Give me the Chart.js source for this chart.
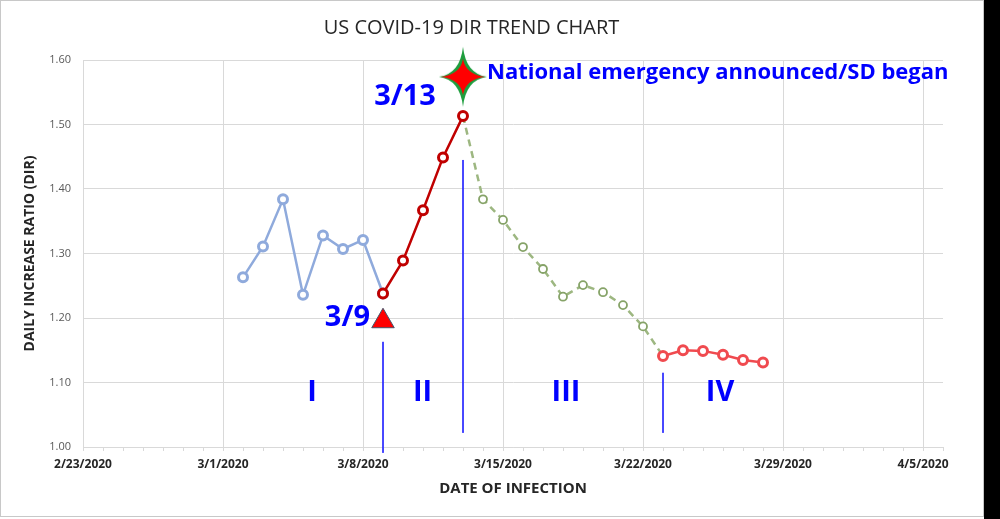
<!DOCTYPE html>
<html>
<head>
<meta charset="utf-8">
<script src="https://cdn.jsdelivr.net/npm/chart.js@4.4.1/dist/chart.umd.min.js"></script>
<style>
  body { margin: 0; background: #fff; width: 1000px; height: 519px; overflow: hidden; position: relative; }
  #frame { position: absolute; left: 0; top: 0; width: 984px; height: 517px; border: 1px solid #c8c8c8; box-sizing: border-box; }
  #chartBox { position: absolute; left: 0; top: 0; width: 984px; height: 517px; }
  #edge { position: absolute; left: 984px; top: 0; width: 16px; height: 519px; background: #000; }
</style>
</head>
<body>
<div id="frame"></div>
<div id="chartBox"><canvas id="dirChart"></canvas></div>
<div id="edge"></div>
<script>
// --- data ---
const blueDates  = ['3/2', '3/3', '3/4', '3/5', '3/6', '3/7', '3/8', '3/9'];
const blueValues = [1.263, 1.311, 1.384, 1.236, 1.328, 1.307, 1.321, 1.238];

const redDates  = ['3/9', '3/10', '3/11', '3/12', '3/13'];
const redValues = [1.238, 1.289, 1.367, 1.449, 1.513];

const greenDates  = ['3/13', '3/14', '3/15', '3/16', '3/17', '3/18', '3/19', '3/20', '3/21', '3/22', '3/23'];
const greenValues = [1.513, 1.384, 1.352, 1.310, 1.276, 1.233, 1.251, 1.240, 1.220, 1.187, 1.141];

const pinkDates  = ['3/23', '3/24', '3/25', '3/26', '3/27', '3/28'];
const pinkValues = [1.141, 1.150, 1.149, 1.143, 1.135, 1.131];

// phase divider lines (date, top value, bottom value)
const dividerDates   = ['3/9', '3/13', '3/23'];
const dividerTops    = [1.163, 1.445, 1.115];
const dividerBottoms = [0.991, 1.022, 1.022];

// event markers
const triangleDate = '3/9',  triangleValue = 1.195;
const starDate     = '3/13', starValue     = 1.574;

// text labels
const labelTexts  = ['3/13', '3/9', 'National emergency announced/SD began', 'I', 'II', 'III', 'IV'];
const labelDays   = [16.1, 14.35, 20.2, 11.45, 16.98, 24.15, 31.85];
const labelValues = [1.543, 1.200, 1.581, 1.084, 1.084, 1.084, 1.084];
const labelAligns = ['center', 'right', 'left', 'center', 'center', 'center', 'center'];
const labelSizes  = [29, 29, 22, 29, 29, 29, 29];

// axes
const startDate = Date.UTC(2020, 1, 23);
const xMaxDay = 43;
const yMin = 1.0, yMax = 1.6, yStep = 0.1;

function toDay(s) {
  const [m, d] = s.split('/').map(Number);
  return (Date.UTC(2020, m - 1, d) - startDate) / 864e5;
}
function dayLabel(v) {
  if (v % 7 !== 0) return '';
  const dt = new Date(startDate + v * 864e5);
  return (dt.getUTCMonth() + 1) + '/' + dt.getUTCDate() + '/2020';
}
const pts = (dates, vals) => dates.map((d, i) => ({ x: toDay(d), y: vals[i] }));

// 4-point star image used as a point style
function makeStar() {
  const c = document.createElement('canvas');
  c.width = 50; c.height = 62;
  const g = c.getContext('2d');
  const cx = 25, cy = 31;
  const star = (rx, ry, w, col) => {
    g.beginPath();
    g.moveTo(cx, cy - ry);
    g.quadraticCurveTo(cx + w, cy - w, cx + rx, cy);
    g.quadraticCurveTo(cx + w, cy + w, cx, cy + ry);
    g.quadraticCurveTo(cx - w, cy + w, cx - rx, cy);
    g.quadraticCurveTo(cx - w, cy - w, cx, cy - ry);
    g.closePath();
    g.fillStyle = col;
    g.fill();
  };
  star(24, 30, 3, '#1E9E3E');
  star(22, 18, 2.5, '#FF0000');
  return c;
}

const gridGray = '#D9D9D9';

const labelPlugin = {
  id: 'labels',
  afterDatasetsDraw(chart) {
    const { ctx, scales: { x, y } } = chart;
    ctx.save();
    ctx.fillStyle = '#0000FF';
    ctx.textBaseline = 'middle';
    labelTexts.forEach((t, i) => {
      ctx.font = `bold ${labelSizes[i]}px "Open Sans", sans-serif`;
      ctx.textAlign = labelAligns[i];
      ctx.fillText(t, x.getPixelForValue(labelDays[i]), y.getPixelForValue(labelValues[i]));
    });
    ctx.restore();
  }
};

const dividerSets = dividerDates.map((d, i) => ({
  data: [{ x: toDay(d), y: dividerTops[i] }, { x: toDay(d), y: dividerBottoms[i] }],
  borderColor: '#2F2FFF', borderWidth: 1, pointRadius: 0, clip: false, order: 5
}));

new Chart(document.getElementById('dirChart'), {
  type: 'line',
  data: {
    datasets: [
      ...dividerSets,
      { data: pts(blueDates, blueValues), borderColor: '#8FAADC', borderWidth: 2.5,
        pointBorderColor: '#8FAADC', pointBackgroundColor: '#fff', pointRadius: 4.5, pointBorderWidth: 3, order: 4 },
      { data: pts(greenDates, greenValues), borderColor: '#9DB781', borderWidth: 2.5, borderDash: [7, 5],
        pointBorderColor: '#86A368', pointBackgroundColor: '#fff', pointRadius: 4, pointBorderWidth: 1.8, order: 3 },
      { data: pts(redDates, redValues), borderColor: '#C00000', borderWidth: 2.5,
        pointBorderColor: '#C00000', pointBackgroundColor: '#fff', pointRadius: 4.5, pointBorderWidth: 3, order: 2 },
      { data: pts(pinkDates, pinkValues), borderColor: '#F04A4F', borderWidth: 2.5,
        pointBorderColor: '#F04A4F', pointBackgroundColor: '#fff', pointRadius: 4.5, pointBorderWidth: 3, order: 1 },
      { data: [{ x: toDay(triangleDate), y: triangleValue }], showLine: false, pointStyle: 'triangle',
        pointRadius: 13, pointBackgroundColor: '#FF0000', pointBorderColor: '#44546A', pointBorderWidth: 1, order: 0 },
      { data: [{ x: toDay(starDate), y: starValue }], showLine: false, pointStyle: makeStar(),
        pointRadius: 20, clip: false, order: 0 }
    ]
  },
  options: {
    responsive: true,
    maintainAspectRatio: false,
    animation: false,
    events: [],
    layout: { padding: { left: 0, right: 41, top: 0, bottom: 0 } },
    plugins: {
      legend: { display: false },
      tooltip: { enabled: false },
      title: {
        display: true,
        text: 'US COVID-19 DIR TREND CHART',
        color: '#262626',
        font: { family: '"Open Sans", sans-serif', size: 20, weight: 'normal', lineHeight: 1.2 },
        padding: { top: 16, bottom: 20 }
      }
    },
    scales: {
      x: {
        type: 'linear',
        min: 0, max: xMaxDay,
        afterFit: s => { s.height = 70; },
        border: { display: true, color: gridGray, width: 1 },
        grid: {
          color: c => (c.tick && c.tick.value % 7 === 0) ? gridGray : 'rgba(0,0,0,0)',
          tickColor: gridGray,
          tickLength: 4,
          lineWidth: 1
        },
        ticks: {
          stepSize: 1, autoSkip: false, maxRotation: 0, padding: 6,
          color: '#262626',
          font: { family: '"Open Sans", sans-serif', size: 12, weight: 'bold' },
          callback: v => dayLabel(v)
        },
        title: {
          display: true, text: 'DATE OF INFECTION', color: '#262626',
          font: { family: '"Open Sans", sans-serif', size: 15, weight: 'bold', lineHeight: 1.2 },
          padding: { top: 0, bottom: 19 }
        }
      },
      y: {
        min: yMin, max: yMax,
        afterFit: s => { s.width = 83; },
        border: { display: true, color: gridGray, width: 1 },
        grid: { color: gridGray, drawTicks: false, lineWidth: 1 },
        ticks: {
          stepSize: yStep, padding: 12, color: '#595959',
          font: { family: '"Open Sans", sans-serif', size: 11 },
          callback: v => v.toFixed(2)
        },
        title: {
          display: true, text: 'DAILY INCREASE RATIO (DIR)', color: '#262626',
          font: { family: '"Open Sans", sans-serif', size: 14, weight: 'bold', lineHeight: 1.2 },
          padding: { top: 22, bottom: 0 }
        }
      }
    }
  },
  plugins: [labelPlugin]
});
</script>
</body>
</html>
